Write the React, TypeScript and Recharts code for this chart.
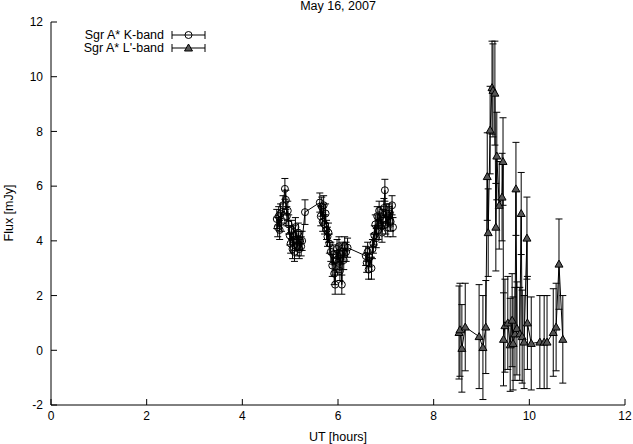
import React from "react";
import { ComposedChart, Line, XAxis, YAxis, ErrorBar } from "recharts";

// Sgr A* K-band (time in UT hours, flux in mJy, 1-sigma error)
const kTime = [
  4.72, 4.74, 4.76, 4.78, 4.8, 4.82, 4.85, 4.89, 4.91, 4.93, 4.95, 4.97, 4.99, 5.01, 5.03,
  5.05, 5.07, 5.09, 5.11, 5.13, 5.15, 5.17, 5.19, 5.21, 5.23, 5.25, 5.31,
  5.62, 5.64, 5.66, 5.68, 5.7, 5.72, 5.74, 5.76, 5.78, 5.8, 5.82, 5.85, 5.88, 5.9, 5.92,
  5.94, 5.96, 5.98, 6.0, 6.02, 6.04, 6.06, 6.08, 6.1, 6.12, 6.14, 6.17, 6.2,
  6.58, 6.6, 6.62, 6.64, 6.66, 6.7, 6.72, 6.74, 6.76, 6.78, 6.8, 6.82, 6.84, 6.86, 6.88,
  6.9, 6.92, 6.94, 6.96, 6.98, 7.0, 7.02, 7.04, 7.06, 7.08, 7.1, 7.13, 7.15,
];
const kFlux = [
  4.8, 4.5, 4.9, 4.4, 5.0, 4.7, 5.3, 5.9, 5.5, 4.9, 5.1, 4.6, 4.2, 3.9, 4.4,
  3.7, 4.2, 3.6, 4.5, 4.0, 3.8, 4.3, 3.7, 4.0, 3.8, 4.0, 5.05,
  5.4, 4.9, 5.25, 4.7, 5.3, 4.6, 5.0, 4.4, 4.15, 4.3, 3.9, 3.6, 3.1, 3.5, 2.8,
  2.4, 3.3, 3.7, 3.2, 3.8, 2.9, 3.5, 2.4, 3.6, 3.3, 3.8, 3.6, 3.75,
  3.45, 3.2, 3.6, 2.95, 3.4, 3.0, 3.7, 3.9, 4.2, 4.6, 4.1, 4.9, 4.4, 5.1, 4.6,
  4.9, 4.3, 4.8, 5.2, 5.85, 4.6, 5.0, 4.5, 4.9, 5.0, 4.7, 5.3, 4.5,
];
const kErr = [
  0.35, 0.35, 0.35, 0.35, 0.35, 0.35, 0.35, 0.38, 0.35, 0.35, 0.35, 0.35, 0.35, 0.35, 0.35,
  0.35, 0.35, 0.35, 0.35, 0.35, 0.35, 0.35, 0.35, 0.35, 0.35, 0.35, 0.45,
  0.35, 0.35, 0.35, 0.35, 0.35, 0.35, 0.35, 0.35, 0.35, 0.35, 0.35, 0.35, 0.4, 0.35, 0.4,
  0.35, 0.35, 0.35, 0.35, 0.35, 0.35, 0.35, 0.35, 0.35, 0.35, 0.35, 0.35, 0.35,
  0.35, 0.35, 0.35, 0.35, 0.35, 0.4, 0.35, 0.35, 0.35, 0.35, 0.35, 0.35, 0.35, 0.35, 0.35,
  0.35, 0.35, 0.35, 0.35, 0.4, 0.35, 0.35, 0.35, 0.35, 0.35, 0.35, 0.35, 0.35,
];

// Sgr A* L'-band
const lTime = [
  8.53, 8.55, 8.59, 8.66, 8.95, 9.03, 9.09, 9.12, 9.14, 9.18, 9.22, 9.24, 9.28, 9.3, 9.32,
  9.37, 9.43, 9.45, 9.46, 9.49, 9.55, 9.6, 9.64, 9.66, 9.7, 9.72, 9.74, 9.8, 9.83, 9.85,
  9.89, 9.95, 9.96, 10.04, 10.22, 10.31, 10.37, 10.5, 10.56, 10.62, 10.7,
];
const lFlux = [
  0.65, 0.75, 0.07, 0.85, 0.5, 0.1, 0.85, 6.35, 4.3, 8.05, 9.6, 9.5, 9.4, 4.5, 7.1,
  5.3, 5.6, 6.9, 0.4, 0.9, 1.0, 0.2, 1.1, 0.25, 0.6, 5.9, 0.8, 0.6, 5.0, 0.5,
  0.3, 4.1, 1.0, 0.25, 0.3, 0.3, 0.3, 0.65, 0.85, 3.15, 0.4,
];
const lErr = [
  1.7, 1.7, 1.6, 1.6, 1.9, 1.9, 1.7, 1.6, 1.6, 1.6, 1.7, 1.7, 1.9, 1.6, 1.6,
  1.6, 1.6, 1.6, 1.7, 1.7, 1.7, 1.7, 1.7, 1.7, 1.7, 1.7, 1.7, 1.7, 1.5, 1.7,
  1.7, 1.5, 1.7, 1.7, 1.7, 1.7, 1.7, 1.6, 1.6, 1.65, 1.6,
];

const xTicks = [0, 2, 4, 6, 8, 10, 12];
const yTicks = [-2, 0, 2, 4, 6, 8, 10, 12];

const kData = kTime.map((t, i) => ({ t, y: kFlux[i], err: kErr[i] }));
const lData = lTime.map((t, i) => ({ t, y: lFlux[i], err: lErr[i] }));

const FONT = "'Liberation Sans', Arial, sans-serif";
const W = 633;
const H = 444;

const circleDot = (p: any) => (
  <circle key={p.index} cx={p.cx} cy={p.cy} r={3.5} fill="none" stroke="#000" strokeWidth={1} />
);

const triPath = (x: number, y: number) => `M${x},${y - 4}L${x + 4},${y + 3}L${x - 4},${y + 3}Z`;

const triDot = (p: any) => (
  <path key={p.index} d={triPath(p.cx, p.cy)} fill="#555" stroke="#000" strokeWidth={1} />
);

const tickStyle = { fontSize: 12, fill: "#000", fontFamily: FONT };

export default function App() {
  return (
    <div style={{ position: "absolute", left: 0, top: 0, width: W, height: H, background: "#fff" }}>
      <ComposedChart width={W} height={H} margin={{ top: 22, right: 8, bottom: 19, left: 11 }}>
        <XAxis
          xAxisId={0}
          type="number"
          dataKey="t"
          domain={[0, 12]}
          ticks={xTicks}
          allowDataOverflow
          tickSize={-6}
          tickMargin={12}
          height={20}
          stroke="#000"
          tick={tickStyle}
        />
        <XAxis
          xAxisId="top"
          orientation="top"
          type="number"
          dataKey="t"
          domain={[0, 12]}
          ticks={xTicks}
          tickSize={-6}
          height={0}
          stroke="#000"
          tickFormatter={() => ""}
        />
        <YAxis
          yAxisId={0}
          type="number"
          domain={[-2, 12]}
          ticks={yTicks}
          allowDataOverflow
          tickSize={-6}
          tickMargin={14}
          width={40}
          stroke="#000"
          tick={tickStyle}
        />
        <YAxis
          yAxisId="right"
          orientation="right"
          type="number"
          domain={[-2, 12]}
          ticks={yTicks}
          tickSize={-6}
          width={0}
          stroke="#000"
          tickFormatter={() => ""}
        />
        <Line
          data={kData}
          dataKey="y"
          stroke="#000"
          strokeWidth={1}
          dot={circleDot}
          activeDot={false}
          isAnimationActive={false}
        >
          <ErrorBar dataKey="err" direction="y" width={3.5} stroke="#000" strokeWidth={1} />
        </Line>
        <Line
          data={lData}
          dataKey="y"
          stroke="#000"
          strokeWidth={1}
          dot={triDot}
          activeDot={false}
          isAnimationActive={false}
        >
          <ErrorBar dataKey="err" direction="y" width={3.5} stroke="#000" strokeWidth={1} />
        </Line>
      </ComposedChart>
      <svg
        width={W}
        height={H}
        style={{ position: "absolute", left: 0, top: 0, pointerEvents: "none" }}
        fontFamily={FONT}
        fontSize={12.5}
      >
        <text x={338} y={10} textAnchor="middle">May 16, 2007</text>
        <text x={338} y={441} textAnchor="middle">UT [hours]</text>
        <text x={13} y={213} textAnchor="middle" transform="rotate(-90 13 213)">Flux [mJy]</text>
        <g stroke="#000" strokeWidth={1} fill="none">
          <text x={164} y={39} textAnchor="end" stroke="none" fill="#000">Sgr A* K-band</text>
          <line x1={172} y1={35} x2={205} y2={35} />
          <line x1={172} y1={31} x2={172} y2={39} />
          <line x1={205} y1={31} x2={205} y2={39} />
          <circle cx={188.5} cy={35} r={3.5} />
          <text x={164} y={52} textAnchor="end" stroke="none" fill="#000">Sgr A* L'-band</text>
          <line x1={172} y1={48} x2={205} y2={48} />
          <line x1={172} y1={44} x2={172} y2={52} />
          <line x1={205} y1={44} x2={205} y2={52} />
          <path d={triPath(188.5, 48)} fill="#555" />
        </g>
      </svg>
    </div>
  );
}
